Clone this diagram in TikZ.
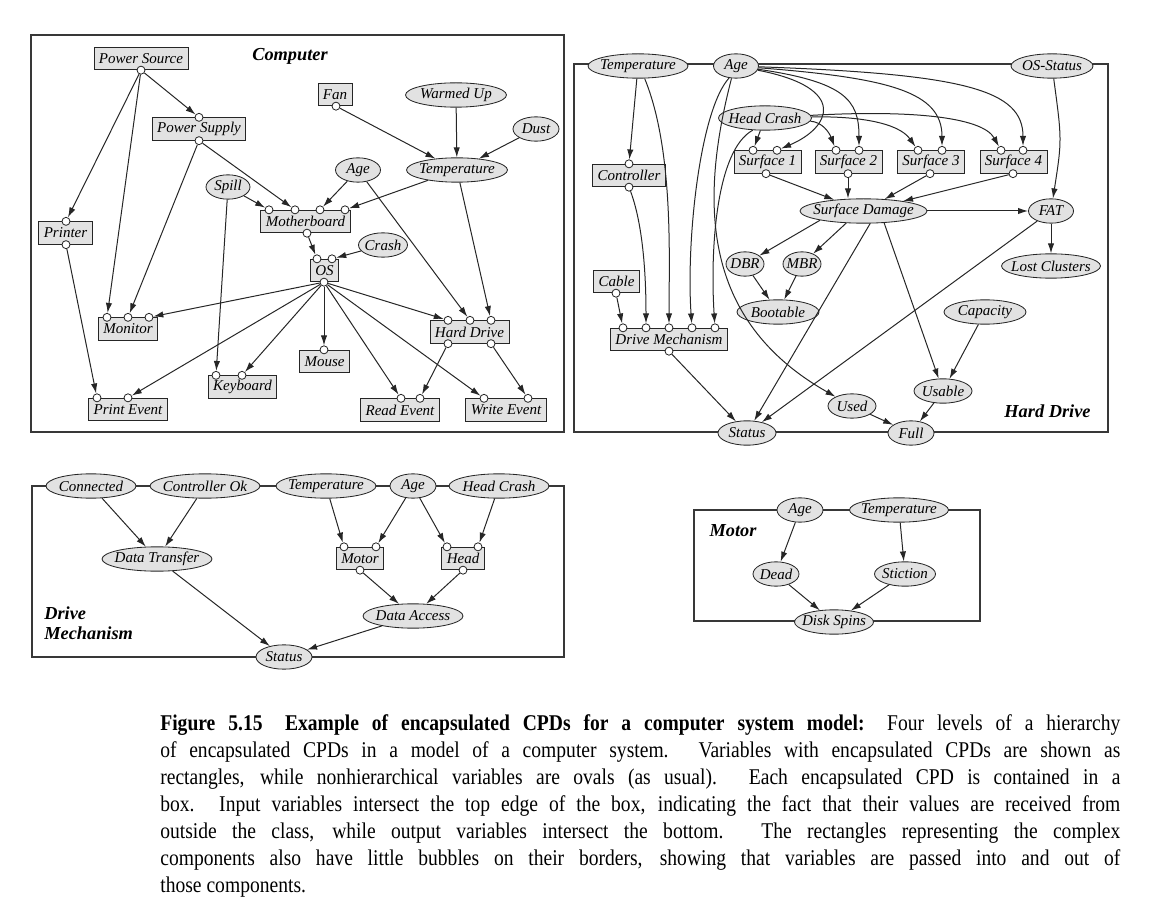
\documentclass[tikz,border=0pt]{standalone}
\usepackage{fontspec}
\setmainfont{Liberation Serif}
\newfontfamily\capfont[FakeStretch=0.87]{Liberation Serif}
\usetikzlibrary{arrows.meta,shapes.geometric}

\definecolor{nodefill}{HTML}{E2E2E2}
\definecolor{linec}{HTML}{262626}
\definecolor{framec}{HTML}{383838}

\tikzset{
  var/.style={ellipse, draw=linec, fill=nodefill, line width=0.5pt, inner sep=-10pt,
    minimum height=14.6pt, minimum width=#1*0.6pt, font=\itshape\fontsize{9}{10}\selectfont},
  cpd/.style={rectangle, draw=linec, fill=nodefill, line width=0.5pt, inner xsep=3pt,
    inner ysep=0pt, minimum height=13.5pt, font=\itshape\fontsize{9}{10}\selectfont},
  bub/.style={circle, draw=linec, fill=white, line width=0.5pt, inner sep=0pt, minimum size=4.8pt},
  arr/.style={draw=linec, line width=0.6pt, -{Latex[length=6pt,width=3.8pt]}},
  frame/.style={draw=framec, line width=0.8pt},
  title/.style={font=\bfseries\itshape\fontsize{11}{12}\selectfont, inner sep=0pt}
}

% 输入/输出小圆泡
\newcommand{\bubin}[3]{\node[bub] (#1) at (#2,0 |- #3.north) {};}
\newcommand{\bubout}[3]{\node[bub] (#1) at (#2,0 |- #3.south) {};}

\begin{document}
\begin{tikzpicture}[x=0.6pt, y=-0.6pt]
\useasboundingbox (0,0) rectangle (1172,920);

% Computer
\draw[frame] (31,35) rectangle (564,432);
\node[title] (tcomp) at (290,56) {Computer};
\node[cpd] (psrc) at (141,58.5) {Power Source};
\node[cpd] (psup) at (199,129) {Power Supply};
\node[cpd] (fan) at (335,94.5) {Fan};
\node[var=101] (wup) at (456,95) {Warmed Up};
\node[var=46] (dust) at (536,129) {Dust};
\node[var=101] (temp) at (457,170) {Temperature};
\node[var=45] (age) at (358,170) {Age};
\node[var=44] (spill) at (228,187) {Spill};
\node[cpd] (mb) at (305.5,221.5) {Motherboard};
\node[var=49] (crash) at (383,245) {Crash};
\node[cpd] (os) at (324.5,270.5) {OS};
\node[cpd] (prn) at (65.5,233) {Printer};
\node[cpd] (mon) at (128,329) {Monitor};
\node[cpd] (hd) at (469.5,332) {Hard Drive};
\node[cpd] (mouse) at (324.5,361.5) {Mouse};
\node[cpd] (kb) at (242.5,387) {Keyboard};
\node[cpd] (pev) at (128,409.5) {Print Event};
\node[cpd] (rev) at (400,410) {Read Event};
\node[cpd] (wev) at (506,410) {Write Event};

\bubout{psrc-o}{141}{psrc}
\bubin{psup-i}{199}{psup} \bubout{psup-o}{199}{psup}
\bubout{fan-o}{336}{fan}
\bubin{prn-i}{66}{prn} \bubout{prn-o}{66}{prn}
\foreach \x/\n in {269/1,295/2,320/3,345/4} {\bubin{mb-i\n}{\x}{mb}}
\bubout{mb-o}{307}{mb}
\bubin{os-i1}{317}{os} \bubin{os-i2}{332}{os} \bubout{os-o}{324}{os}
\foreach \x/\n in {107/1,128/2,149/3} {\bubin{mon-i\n}{\x}{mon}}
\foreach \x/\n in {448/1,470/2,491/3} {\bubin{hd-i\n}{\x}{hd}}
\bubout{hd-o1}{448}{hd} \bubout{hd-o2}{491}{hd}
\bubin{mouse-i}{324}{mouse}
\bubin{kb-i1}{216}{kb} \bubin{kb-i2}{242}{kb}
\bubin{pev-i1}{97}{pev} \bubin{pev-i2}{128}{pev}
\bubin{rev-i1}{401}{rev} \bubin{rev-i2}{420}{rev}
\bubin{wev-i1}{484}{wev} \bubin{wev-i2}{528}{wev}

\draw[arr] (psrc-o) -- (psup-i);
\draw[arr] (psrc-o) -- (prn-i);
\draw[arr] (psrc-o) -- (mon-i1);
\draw[arr] (psup-o) -- (mon-i2);
\draw[arr] (psup-o) -- (mb-i2);
\draw[arr] (spill) -- (mb-i1);
\draw[arr] (spill) -- (kb-i1);
\draw[arr] (age) -- (mb-i3);
\draw[arr] (age) -- (hd-i2);
\draw[arr] (temp) -- (mb-i4);
\draw[arr] (temp) -- (hd-i3);
\draw[arr] (fan-o) -- (temp);
\draw[arr] (wup) -- (temp);
\draw[arr] (dust) -- (temp);
\draw[arr] (mb-o) -- (os-i1);
\draw[arr] (crash) -- (os-i2);
\foreach \t in {mon-i3,kb-i2,pev-i2,mouse-i,rev-i1,wev-i1,hd-i1}
  \draw[arr] (os-o) -- (\t);
\draw[arr] (prn-o) -- (pev-i1);
\draw[arr] (hd-o1) -- (rev-i2);
\draw[arr] (hd-o2) -- (wev-i2);

% Hard Drive
\draw[frame] (574,64) rectangle (1108,432);
\node[title] (thd) at (1047.5,411) {Hard Drive};
\node[var=100] (htemp) at (638,66) {Temperature};
\node[var=45] (hage) at (736,66) {Age};
\node[var=82] (osst) at (1052,66) {OS-Status};
\node[var=93] (hcrash) at (765,118) {Head Crash};
\node[cpd] (s1) at (767.5,162) {Surface 1};
\node[cpd] (s2) at (848.5,162) {Surface 2};
\node[cpd] (s3) at (931,162) {Surface 3};
\node[cpd] (s4) at (1013.5,162) {Surface 4};
\node[cpd] (ctrl) at (629,175.5) {Controller};
\node[var=127] (sd) at (863.5,211) {Surface Damage};
\node[var=45] (fat) at (1051,211) {FAT};
\node[var=38] (dbr) at (745,264) {DBR};
\node[var=38] (mbr) at (802,264) {MBR};
\node[var=99] (lost) at (1051,266) {Lost Clusters};
\node[cpd] (cable) at (616.5,281.5) {Cable};
\node[var=82] (boot) at (778,312) {Bootable};
\node[var=82] (cap) at (985,312) {Capacity};
\node[cpd] (dm) at (669,339.5) {Drive Mechanism};
\node[var=58] (usable) at (943,391) {Usable};
\node[var=48] (used) at (852,406) {Used};
\node[var=46] (full) at (911,433) {Full};
\node[var=58] (hstat) at (747,433) {Status};

\bubin{s1-i1}{753}{s1} \bubin{s1-i2}{777}{s1} \bubout{s1-o}{766}{s1}
\bubin{s2-i1}{836}{s2} \bubin{s2-i2}{859}{s2} \bubout{s2-o}{848}{s2}
\bubin{s3-i1}{918}{s3} \bubin{s3-i2}{942}{s3} \bubout{s3-o}{930}{s3}
\bubin{s4-i1}{1001}{s4} \bubin{s4-i2}{1023}{s4} \bubout{s4-o}{1013}{s4}
\bubin{ctrl-i}{629}{ctrl} \bubout{ctrl-o}{629}{ctrl}
\bubout{cable-o}{616}{cable}
\foreach \x/\n in {623/1,646/2,669/3,692/4,715/5} {\bubin{dm-i\n}{\x}{dm}}
\bubout{dm-o}{669}{dm}

\draw[arr] (htemp) -- (ctrl-i);
\draw[arr] (htemp.-62) .. controls (674,150) and (669,260) .. (dm-i3);
\draw[arr] (ctrl-o) .. controls (645,230) and (646,290) .. (dm-i2);
\draw[arr] (cable-o) -- (dm-i1);
\draw[arr] (hage.240) .. controls (700,110) and (686,240) .. (dm-i4);
\draw[arr] (hcrash.225) .. controls (716,150) and (710,250) .. (dm-i5);
\draw[arr] (hage.250) .. controls (700,200) and (700,320) .. (used);
\draw[arr] (hage) .. controls (850,88) and (830,128) .. (s1-i2);
\draw[arr] (hage) .. controls (845,82) and (859,100) .. (s2-i2);
\draw[arr] (hage) .. controls (890,78) and (942,92) .. (s3-i2);
\draw[arr] (hage) .. controls (965,74) and (1023,90) .. (s4-i2);
\draw[arr] (hcrash) -- (s1-i1);
\draw[arr] (hcrash) .. controls (822,122) and (829,132) .. (s2-i1);
\draw[arr] (hcrash) .. controls (855,116) and (898,122) .. (s3-i1);
\draw[arr] (hcrash) .. controls (905,110) and (982,116) .. (s4-i1);
\draw[arr] (s1-o) -- (sd);
\draw[arr] (s2-o) -- (s2-o |- sd.north);
\draw[arr] (s3-o) -- (sd);
\draw[arr] (s4-o) -- (sd);
\draw[arr] (sd) -- (fat);
\draw[arr] (osst) .. controls (1062,140) .. (fat);
\draw[arr] (fat) -- (lost);
\draw[arr] (fat) -- (hstat);
\draw[arr] (sd.192) -- (dbr);
\draw[arr] (sd.215) -- (mbr);
\draw[arr] (sd.-62) -- (hstat);
\draw[arr] (sd.-30) -- (usable);
\draw[arr] (dbr) -- (boot);
\draw[arr] (mbr) -- (boot);
\draw[arr] (dm-o) -- (hstat);
\draw[arr] (cap) -- (usable);
\draw[arr] (usable) -- (full);
\draw[arr] (used) -- (full);

% Drive Mechanism
\draw[frame] (32,486) rectangle (564,657);
\node[title, align=left, anchor=west] (tdm) at (44,623) {Drive\\Mechanism};
\node[var=90] (conn) at (91,486) {Connected};
\node[var=110] (ctrlok) at (205,486) {Controller Ok};
\node[var=100] (dtemp) at (326,486) {Temperature};
\node[var=46] (dage) at (413,486) {Age};
\node[var=100] (dhc) at (499,486) {Head Crash};
\node[var=110] (dtrans) at (157,559) {Data Transfer};
\node[cpd] (motor) at (360,558.5) {Motor};
\node[cpd] (head) at (463,558.5) {Head};
\node[var=100] (dacc) at (413,616) {Data Access};
\node[var=56] (dstat) at (284,657) {Status};

\bubin{motor-i1}{344}{motor} \bubin{motor-i2}{376}{motor} \bubout{motor-o}{360}{motor}
\bubin{head-i1}{447}{head} \bubin{head-i2}{478}{head} \bubout{head-o}{463}{head}

\draw[arr] (conn) -- (dtrans);
\draw[arr] (ctrlok) -- (dtrans);
\draw[arr] (dtemp) -- (motor-i1);
\draw[arr] (dage) -- (motor-i2);
\draw[arr] (dage) -- (head-i1);
\draw[arr] (dhc) -- (head-i2);
\draw[arr] (motor-o) -- (dacc);
\draw[arr] (head-o) -- (dacc);
\draw[arr] (dtrans) -- (dstat);
\draw[arr] (dacc) -- (dstat);

% Motor
\draw[frame] (694,510) rectangle (980,621);
\node[title] (tmot) at (733,531) {Motor};
\node[var=46] (mage) at (800,510) {Age};
\node[var=99] (mtemp) at (899,510) {Temperature};
\node[var=46] (dead) at (776,574) {Dead};
\node[var=61] (stic) at (905,574) {Stiction};
\node[var=79] (spins) at (834,622) {Disk Spins};

\draw[arr] (mage) -- (dead);
\draw[arr] (mtemp) -- (stic);
\draw[arr] (dead) -- (spins);
\draw[arr] (stic) -- (spins);

% 图注
\node[anchor=north west, text width=576pt, align=justify, inner sep=0pt,
  font=\capfont\fontsize{13.5}{16.2}\selectfont] (cap) at (160,714)
{\textbf{Figure 5.15\quad Example of encapsulated CPDs for a computer system model:} Four levels of a hierarchy\linebreak
of encapsulated CPDs in a model of a computer system. Variables with encapsulated CPDs are shown as\linebreak
rectangles, while nonhierarchical variables are ovals (as usual). Each encapsulated CPD is contained in a\linebreak
box. Input variables intersect the top edge of the box, indicating the fact that their values are received from\linebreak
outside the class, while output variables intersect the bottom. The rectangles representing the complex\linebreak
components also have little bubbles on their borders, showing that variables are passed into and out of\linebreak
those components.};
\end{tikzpicture}
\end{document}
